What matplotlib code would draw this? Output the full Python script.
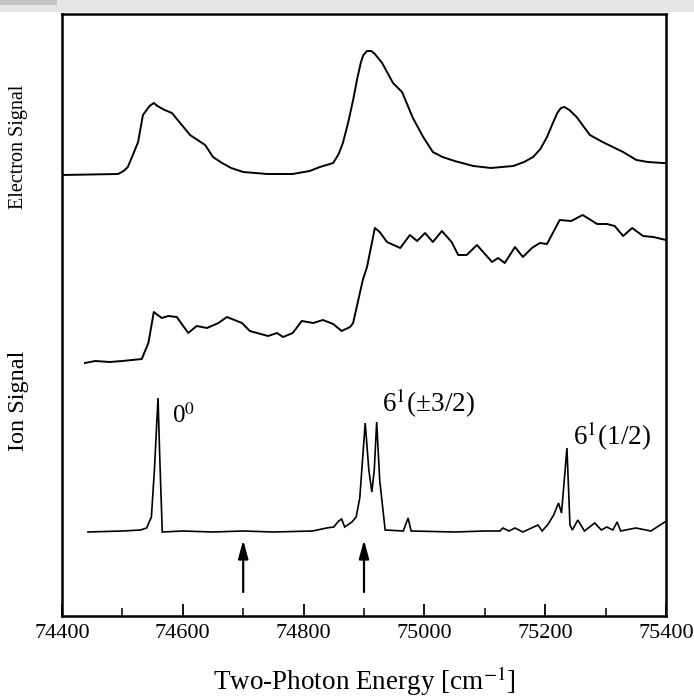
import matplotlib
matplotlib.use("Agg")
import matplotlib.pyplot as plt
from matplotlib.patches import Rectangle

plt.rcParams['font.family'] = ['Liberation Serif', 'DejaVu Serif']
plt.rcParams['mathtext.fontset'] = 'stix'

# ---- data (energies in cm^-1, signals in arbitrary stacked units) ----
electron_x = [74400, 74493, 74502, 74509, 74518, 74526, 74534, 74545, 74552, 74558,
              74570, 74582, 74597, 74612, 74637, 74650, 74665, 74680, 74700, 74740,
              74782, 74810, 74827, 74849, 74858, 74865, 74874, 74882, 74889, 74895,
              74899, 74905, 74912, 74918, 74930, 74948, 74963, 74981, 74998, 75014,
              75030, 75050, 75081, 75110, 75147, 75165, 75180, 75192, 75203, 75212,
              75220, 75226, 75232, 75240, 75252, 75263, 75274, 75295, 75312, 75329,
              75340, 75351, 75370, 75395, 75400]
electron_y = [441, 442, 445, 449, 462, 474, 501, 510, 513, 510,
              506, 503, 492, 481, 471, 459, 453, 448, 444, 442,
              442, 445, 449, 453, 462, 473, 494, 516, 538, 554,
              561, 565, 565, 562, 553, 533, 524, 498, 479, 464,
              459, 455, 450, 448, 450, 454, 459, 467, 479, 492,
              503, 508, 509, 506, 499, 490, 481, 474, 469, 464,
              460, 456, 454, 453, 453]

ion_broad_x = [74438, 74455, 74479, 74500, 74532, 74543, 74552, 74565, 74576, 74590,
               74609, 74623, 74640, 74659, 74673, 74698, 74711, 74741, 74756, 74766,
               74782, 74797, 74816, 74832, 74849, 74863, 74877, 74882, 74898, 74905,
               74918, 74926, 74938, 74960, 74976, 74988, 75001, 75014, 75029, 75045,
               75056, 75070, 75087, 75112, 75122, 75133, 75150, 75163, 75178, 75191,
               75203, 75224, 75243, 75262, 75286, 75302, 75315, 75329, 75344, 75362,
               75379, 75400]
ion_broad_y = [253, 255, 254, 255, 257, 273, 304, 298, 300, 299,
               283, 290, 288, 293, 299, 293, 285, 280, 283, 279,
               283, 295, 293, 296, 292, 285, 289, 293, 336, 349,
               388, 384, 374, 368, 381, 375, 383, 374, 385, 374,
               361, 361, 371, 354, 358, 353, 369, 359, 368, 373,
               372, 396, 395, 401, 392, 392, 390, 380, 388, 380,
               379, 376]

ion_sharp_x = [74443, 74500, 74530, 74540, 74548, 74553, 74559, 74562, 74566, 74600,
               74650, 74700, 74750, 74815, 74838, 74850, 74858, 74863, 74868, 74880,
               74887, 74893, 74902, 74908, 74913, 74917, 74921, 74926, 74935, 74965,
               74973, 74978, 75050, 75100, 75125, 75130, 75140, 75150, 75163, 75188,
               75195, 75205, 75214, 75222, 75227, 75236, 75241, 75245, 75254, 75265,
               75282, 75293, 75302, 75312, 75319, 75325, 75350, 75375, 75398]
ion_sharp_y = [84, 85, 86, 88, 99, 146, 218, 156, 84, 85,
               84, 85, 84, 85, 88, 89, 95, 97, 89, 94,
               99, 118, 193, 146, 124, 146, 194, 136, 86, 85,
               98, 85, 84, 85, 85, 88, 85, 88, 84, 91,
               85, 92, 101, 113, 103, 168, 91, 86, 96, 85,
               93, 86, 89, 86, 94, 85, 88, 85, 94]

arrow_x = [74700, 74900]
peak_labels = [r'0$^{0}$', r'6$^{1}$(±3/2)', r'6$^{1}$(1/2)']
peak_label_x = [74582, 74930, 75246]
peak_label_y = [193, 204, 171]
xticks = [74400, 74600, 74800, 75000, 75200, 75400]

# ---- figure ----
fig = plt.figure(figsize=(6.94, 6.98), dpi=100)
fig.patch.set_facecolor('white')
# grey strip of the scanned screenshot at top
fig.add_artist(Rectangle((0, 1 - 12/698), 1, 12/698, transform=fig.transFigure,
                         facecolor='#e6e6e6', edgecolor='none', zorder=0))
fig.add_artist(Rectangle((0, 1 - 5/698), 57/694, 5/698, transform=fig.transFigure,
                         facecolor='#c4c4c4', edgecolor='none', zorder=1))

ax = fig.add_axes([62/694, (698-616)/698, 604/694, 602/698])
lw = 1.4
ax.plot(electron_x, electron_y, color='black', lw=lw, solid_joinstyle='round')
ax.plot(ion_broad_x, ion_broad_y, color='black', lw=lw, solid_joinstyle='round')
ax.plot(ion_sharp_x, ion_sharp_y, color='black', lw=1.2, solid_joinstyle='miter')

for xa in arrow_x:
    ax.annotate('', xy=(xa, 76), xytext=(xa, 24),
                arrowprops=dict(arrowstyle='-|>,head_length=1.1,head_width=0.3',
                                color='black', lw=1.6, shrinkA=0, shrinkB=0))

label_sizes = [18, 19.5, 19.5]
for t, xx, yy, fs in zip(peak_labels, peak_label_x, peak_label_y, label_sizes):
    ax.text(xx, yy, t, fontsize=fs, ha='left', va='baseline')

ax.set_xlim(74400, 75400)
ax.set_ylim(0, 602)
ax.set_xticks(xticks)
ax.set_xticks([74500, 74700, 74900, 75100, 75300], minor=True)
ax.tick_params(axis='x', which='major', direction='in', length=9, width=1.3,
               labelsize=16, pad=6, top=False)
ax.tick_params(axis='x', which='minor', direction='in', length=6, width=1.1, top=False)
ax.set_yticks([])
for s in ax.spines.values():
    s.set_linewidth(1.8)

ax.set_xlabel('Two-Photon Energy [cm$^{-1}$]', fontsize=19.5, labelpad=15)
fig.text(19/694, 1 - 147/698, 'Electron Signal', rotation=90, fontsize=14.5,
         ha='center', va='center')
fig.text(19/694, 1 - 401/698, 'Ion Signal', rotation=90, fontsize=17.5,
         ha='center', va='center')

fig.savefig('out.png', dpi=100)
